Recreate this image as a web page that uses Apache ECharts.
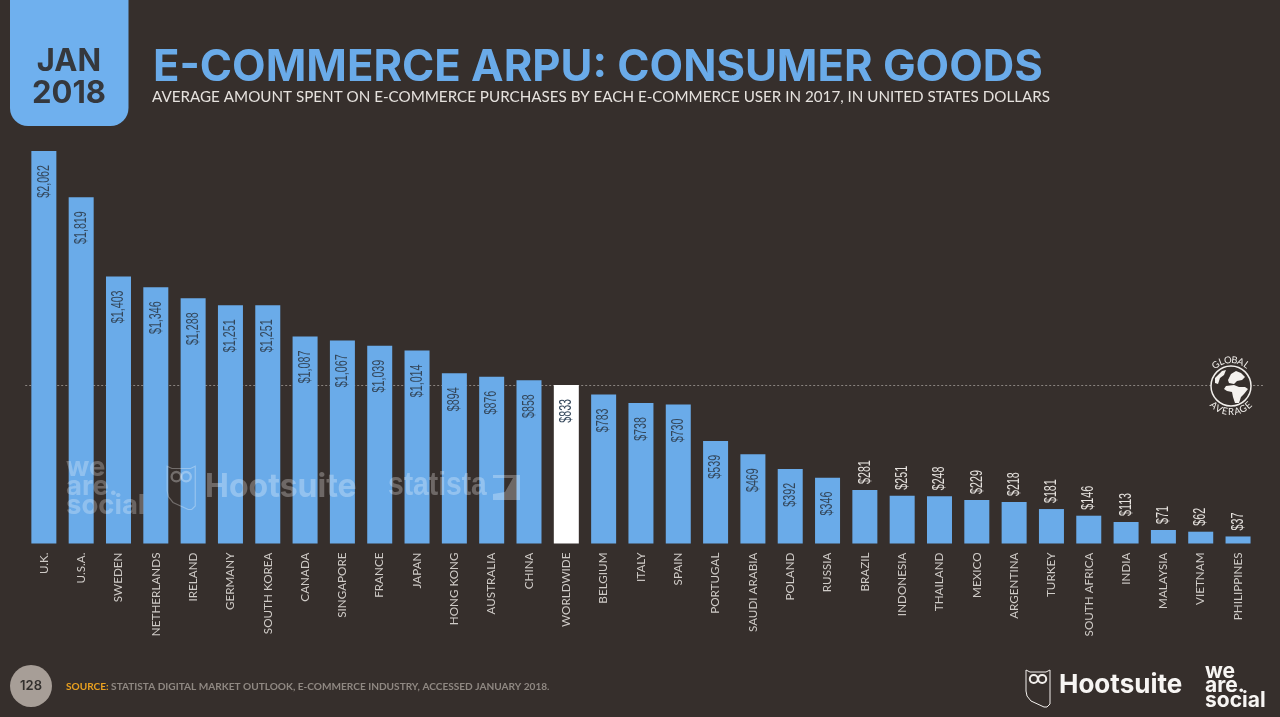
<!DOCTYPE html>
<html>
<head>
<meta charset="utf-8">
<title>E-commerce ARPU: consumer goods</title>
<style>
  html, body { margin: 0; padding: 0; background: #362f2c; }
  #main { width: 1280px; height: 717px; }
</style>
<script src="https://cdn.jsdelivr.net/npm/echarts@6/dist/echarts.min.js"></script>
</head>
<body>
<div id="main"></div>
<script>
var categories = ["U.K.", "U.S.A.", "SWEDEN", "NETHERLANDS", "IRELAND", "GERMANY", "SOUTH KOREA",
  "CANADA", "SINGAPORE", "FRANCE", "JAPAN", "HONG KONG", "AUSTRALIA", "CHINA", "WORLDWIDE",
  "BELGIUM", "ITALY", "SPAIN", "PORTUGAL", "SAUDI ARABIA", "POLAND", "RUSSIA", "BRAZIL",
  "INDONESIA", "THAILAND", "MEXICO", "ARGENTINA", "TURKEY", "SOUTH AFRICA", "INDIA",
  "MALAYSIA", "VIETNAM", "PHILIPPINES"];
var values = [2062, 1819, 1403, 1346, 1288, 1251, 1251, 1087, 1067, 1039, 1014, 894, 876, 858, 833,
  783, 738, 730, 539, 469, 392, 346, 281, 251, 248, 229, 218, 181, 146, 113, 71, 62, 37];
var highlighted = "WORLDWIDE";
var globalAverage = 833;
var insideLabelMin = 300;

var BG = "#362f2c";
var BLUE = "#6aabe9";
var DARK = "#35383d";

var chartDom = document.getElementById("main");
var myChart = echarts.init(chartDom);

function formatUsd(val) {
  return "$" + val.toLocaleString("en-US");
}

// owl shield used by the footer logo and the watermark
// z goes on the children too, a group does not pass it down
function owl(x, y, s, color, opacity, lineWidth) {
  return {
    type: "group",
    x: x,
    y: y,
    scaleX: s,
    scaleY: s,
    children: [
      {
        type: "polygon",
        z: 20,
        shape: { points: [[1, 1], [5, 3], [21, 3], [25, 1], [25, 35], [22, 38], [19, 38], [6, 32], [2, 27], [1, 22]] },
        style: { fill: "none", stroke: color, lineWidth: lineWidth, opacity: opacity },
      },
      { type: "circle", z: 20, shape: { cx: 8.8, cy: 10, r: 4 }, style: { fill: "none", stroke: color, lineWidth: 2, opacity: opacity } },
      { type: "circle", z: 20, shape: { cx: 17.2, cy: 10, r: 4 }, style: { fill: "none", stroke: color, lineWidth: 2, opacity: opacity } },
    ],
  };
}

function logoText(text, x, y, size, lineHeight, color, opacity) {
  return {
    type: "text",
    x: x,
    y: y,
    z: 20,
    style: {
      text: text,
      fill: color,
      opacity: opacity,
      font: "700 " + size + "px Inter",
      lineHeight: lineHeight,
    },
  };
}

// letters of the globe badge, set one by one around the ring
function arcLetters(text, cx, cy, r, startDeg, stepDeg, flip) {
  return text.split("").map(function (ch, i) {
    var deg = startDeg + i * stepDeg;
    var rad = (deg * Math.PI) / 180;
    return {
      type: "text",
      x: cx + r * Math.sin(rad),
      y: cy - r * Math.cos(rad),
      rotation: flip ? Math.PI - rad : -rad,
      z: 20,
      style: {
        text: ch,
        fill: "#f2efec",
        font: "9.5px Lato",
        align: "center",
        verticalAlign: "middle",
      },
    };
  });
}

var landStyle = { fill: "#f4f1ee" };
var globe = {
  type: "group",
  x: 1231,
  y: 386,
  children: [
    { type: "circle", z: 20, shape: { cx: 0, cy: 0, r: 20 }, style: { fill: BG, stroke: "#f2efec", lineWidth: 1.5 } },
    {
      type: "polygon",
      z: 21,
      shape: { points: [[-3, -6], [0, -12], [5, -15], [10, -13], [14, -9], [11, -6], [6, -5], [3, -2], [-2, -3]] },
      style: landStyle,
    },
    {
      type: "polygon",
      z: 21,
      shape: { points: [[-5, 0], [3, -1], [8, 1], [14, 1], [17, 3], [13, 8], [10, 11], [8, 17], [4, 17], [2, 11], [1, 6], [-4, 5], [-7, 3]] },
      style: landStyle,
    },
    {
      type: "polygon",
      z: 21,
      shape: { points: [[-16, -8], [-9, -15], [-5, -16], [-7, -11], [-11, -8], [-13, -2], [-16, -3]] },
      style: landStyle,
    },
  ],
};

var graphics = [
  // date tab
  {
    type: "rect",
    shape: { x: 10, y: -20, width: 118.5, height: 146, r: 18 },
    style: { fill: "#6fb0ee" },
    z: 0,
  },
  // dotted average line, the stretch right of the plot
  {
    type: "line",
    shape: { x1: 1253, y1: 385.5, x2: 1265, y2: 385.5 },
    style: { stroke: "#8a8480", lineWidth: 1, lineDash: [2, 2] },
    z: 1,
  },
  globe,
  // page badge
  { type: "circle", shape: { cx: 31, cy: 686, r: 21 }, style: { fill: "#a79e97" }, z: 0 },
  // watermarks over the bars
  logoText("we\nare.\nsocial", 66, 458, 27.5, 19, "#ffffff", 0.26),
  owl(166, 465, 1.17, "#ffffff", 0.3, 1),
  logoText("Hootsuite", 205, 472, 32, 31, "#ffffff", 0.28),
  {
    type: "text",
    x: 388,
    y: 469,
    scaleX: 0.83,
    z: 20,
    style: { text: "statista", fill: "#ffffff", opacity: 0.28, font: "700 34px 'Liberation Sans'" },
  },
  {
    type: "polygon",
    shape: { points: [[493, 475], [520, 475], [520, 500], [493, 500], [493, 494], [505, 492], [513, 478], [493, 478]] },
    style: { fill: "#ffffff", opacity: 0.28 },
    z: 20,
  },
  // footer logos
  owl(1025, 669, 1, "#f2efec", 1, 1),
  logoText("Hootsuite", 1059, 670, 26, 30, "#f7f5f3", 1),
  logoText("we\nare.\nsocial", 1205, 664, 21, 14.5, "#f7f5f3", 1),
].concat(
  arcLetters("GLOBAL", 1231, 386, 26, -36, 14.5, false),
  arcLetters("AVERAGE", 1231, 386, 26, 222, -14, true)
);

// value labels run up the bars in a squeezed face, so they are text elements
function renderValueLabel(params, api) {
  var val = api.value(1);
  var pt = api.coord([api.value(0), val]);
  var inside = val >= insideLabelMin;
  return {
    type: "text",
    x: pt[0],
    y: inside ? pt[1] + 14 : pt[1] - 6,
    rotation: Math.PI / 2,
    scaleX: 0.63,
    style: {
      text: formatUsd(val),
      fill: inside ? "#33465a" : "#e6e2de",
      font: "17px 'Liberation Sans'",
      align: inside ? "right" : "left",
      verticalAlign: "middle",
    },
  };
}

var option = {
  backgroundColor: BG,
  animation: false,
  title: [
    {
      text: "JAN\n2018",
      left: 64,
      top: 41,
      textAlign: "center",
      textStyle: { color: DARK, fontFamily: "Inter", fontWeight: 700, fontSize: 31, lineHeight: 32 },
    },
    {
      text: "E-COMMERCE ARPU: CONSUMER GOODS",
      left: 148,
      top: 37,
      textStyle: { color: BLUE, fontFamily: "Inter", fontWeight: 700, fontSize: 43.6, lineHeight: 52 },
    },
    {
      text: "AVERAGE AMOUNT SPENT ON E-COMMERCE PURCHASES BY EACH E-COMMERCE USER IN 2017, IN UNITED STATES DOLLARS",
      left: 147,
      top: 84,
      textStyle: { color: "#e6e2de", fontFamily: "Lato", fontWeight: 400, fontSize: 15.2, lineHeight: 17 },
    },
    {
      text: "128",
      left: 26,
      top: 673,
      textAlign: "center",
      textStyle: { color: "#33302e", fontFamily: "Inter", fontWeight: 600, fontSize: 13, lineHeight: 16 },
    },
    {
      text: "{s|SOURCE:} STATISTA DIGITAL MARKET OUTLOOK, E-COMMERCE INDUSTRY, ACCESSED JANUARY 2018.",
      left: 61,
      top: 675,
      textStyle: {
        color: "#8f8882",
        fontFamily: "Lato",
        fontSize: 10.1,
        lineHeight: 14,
        rich: { s: { color: "#e9a01f", fontFamily: "Lato", fontWeight: 700, fontSize: 10.1 } },
      },
    },
  ],
  grid: {
    left: 25.2,
    width: 1231.5,
    top: 151,
    height: 392.5,
  },
  xAxis: {
    type: "category",
    data: categories,
    axisLine: { show: false },
    axisTick: { show: false },
    axisLabel: {
      interval: 0,
      rotate: 90,
      margin: 9,
      color: "#cfcbc7",
      fontFamily: "Lato",
      fontSize: 11.7,
    },
  },
  yAxis: {
    type: "value",
    min: 0,
    max: 2062,
    show: false,
  },
  graphic: graphics,
  series: [
    {
      type: "bar",
      z: 5,
      barWidth: "67%",
      data: values.map(function (val, i) {
        return {
          value: val,
          itemStyle: { color: categories[i] === highlighted ? "#ffffff" : BLUE },
        };
      }),
      markLine: {
        z: 1,
        silent: true,
        symbol: "none",
        label: { show: false },
        lineStyle: { color: "#8a8480", type: [2, 2], width: 1 },
        data: [{ yAxis: globalAverage }],
      },
    },
    {
      type: "custom",
      z: 6,
      clip: false,
      silent: true,
      renderItem: renderValueLabel,
      data: values.map(function (val, i) {
        return [i, val];
      }),
    },
  ],
};

myChart.setOption(option);
</script>
</body>
</html>
